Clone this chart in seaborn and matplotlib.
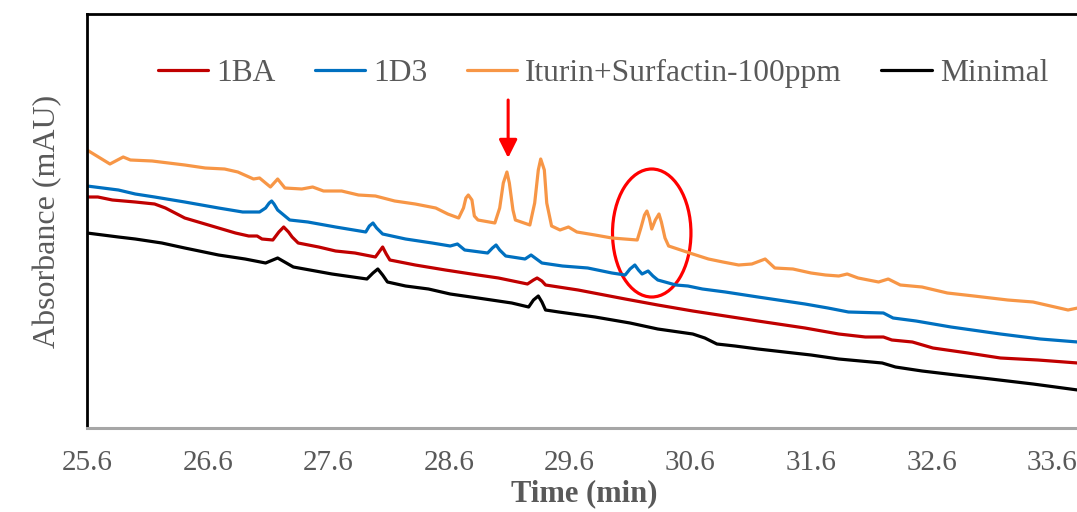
import matplotlib
matplotlib.use("Agg")
import matplotlib.pyplot as plt
from matplotlib.patches import Ellipse
import seaborn as sns
import pandas as pd

# Retention time (min) and absorbance (mAU) for each sample
t_ba = [25.60, 25.69, 25.81, 26.00, 26.16, 26.25, 26.41, 26.55, 26.69, 26.83, 26.94, 27.01,
        27.05, 27.14, 27.19, 27.23, 27.27, 27.30, 27.35, 27.52, 27.66, 27.82, 27.99, 28.02,
        28.05, 28.08, 28.11, 28.32, 28.57, 28.84, 29.01, 29.25, 29.30, 29.33, 29.37, 29.40,
        29.67, 30.06, 30.33, 30.62, 30.89, 31.16, 31.55, 31.83, 32.05, 32.20, 32.27, 32.44,
        32.61, 32.90, 33.17, 33.48, 33.81]
a_ba = [23.1, 23.1, 22.8, 22.6, 22.4, 22.0, 21.0, 20.5, 20.0, 19.5, 19.2, 19.2,
        18.9, 18.8, 19.6, 20.1, 19.6, 19.1, 18.5, 18.1, 17.7, 17.5, 17.1, 17.6,
        18.1, 17.4, 16.8, 16.3, 15.8, 15.3, 15.0, 14.4, 14.8, 15.0, 14.7, 14.3,
        13.8, 12.9, 12.3, 11.7, 11.2, 10.7, 10.0, 9.4, 9.1, 9.1, 8.8, 8.6,
        8.0, 7.5, 7.0, 6.8, 6.5]

t_d3 = [25.60, 25.86, 26.00, 26.16, 26.41, 26.69, 26.89, 27.03, 27.08, 27.11, 27.13, 27.15,
        27.18, 27.28, 27.43, 27.66, 27.91, 27.94, 27.97, 28.00, 28.05, 28.24, 28.46, 28.61,
        28.67, 28.73, 28.92, 28.96, 28.99, 29.02, 29.07, 29.23, 29.28, 29.37, 29.54, 29.75,
        29.95, 30.06, 30.10, 30.14, 30.17, 30.20, 30.25, 30.29, 30.33, 30.48, 30.58, 30.70,
        30.89, 31.16, 31.55, 31.74, 31.91, 32.20, 32.28, 32.47, 32.76, 33.17, 33.50, 33.81]
a_d3 = [24.2, 23.8, 23.4, 23.1, 22.6, 22.0, 21.6, 21.6, 22.0, 22.5, 22.7, 22.4,
        21.8, 20.8, 20.6, 20.1, 19.6, 20.2, 20.5, 20.0, 19.4, 18.9, 18.5, 18.2,
        18.4, 17.8, 17.5, 18.0, 18.3, 17.8, 17.2, 16.9, 17.3, 16.5, 16.2, 16.0,
        15.5, 15.3, 15.9, 16.3, 15.8, 15.4, 15.7, 15.2, 14.8, 14.3, 14.2, 13.9,
        13.6, 13.1, 12.4, 12.0, 11.6, 11.5, 11.0, 10.7, 10.1, 9.4, 8.9, 8.6]

t_is = [25.60, 25.79, 25.90, 25.96, 26.14, 26.41, 26.58, 26.74, 26.85, 26.98, 27.03, 27.12,
        27.18, 27.24, 27.38, 27.47, 27.56, 27.71, 27.85, 27.99, 28.15, 28.32, 28.49, 28.59,
        28.68, 28.72, 28.74, 28.76, 28.79, 28.81, 28.84, 28.98, 29.02, 29.05, 29.08, 29.10,
        29.13, 29.15, 29.27, 29.31, 29.34, 29.36, 29.39, 29.41, 29.45, 29.52, 29.59, 29.66,
        29.81, 29.95, 30.16, 30.19, 30.22, 30.24, 30.26, 30.28, 30.31, 30.34, 30.36, 30.39,
        30.42, 30.62, 30.75, 30.87, 31.00, 31.11, 31.22, 31.30, 31.45, 31.60, 31.72, 31.83,
        31.90, 31.99, 32.16, 32.24, 32.34, 32.52, 32.73, 32.95, 33.23, 33.44, 33.73, 33.81]
a_is = [27.8, 26.4, 27.1, 26.8, 26.7, 26.3, 26.0, 25.9, 25.6, 24.9, 25.0, 24.1,
        24.9, 24.0, 23.9, 24.1, 23.7, 23.7, 23.3, 23.2, 22.7, 22.4, 22.0, 21.4,
        21.0, 22.0, 23.0, 23.3, 22.8, 21.2, 20.8, 20.5, 22.0, 24.5, 25.6, 24.5,
        21.8, 20.8, 20.3, 22.5, 25.8, 26.9, 25.8, 22.5, 20.2, 19.8, 20.1, 19.6,
        19.3, 19.0, 18.8, 20.0, 21.3, 21.7, 21.0, 19.9, 20.8, 21.4, 20.6, 19.0,
        18.2, 17.4, 16.9, 16.6, 16.3, 16.4, 16.9, 16.0, 15.9, 15.5, 15.3, 15.2,
        15.4, 15.0, 14.6, 14.9, 14.3, 14.1, 13.5, 13.2, 12.8, 12.6, 11.8, 12.0]

t_min = [25.60, 25.86, 26.00, 26.22, 26.41, 26.69, 26.91, 27.08, 27.18, 27.31, 27.63, 27.92,
         27.97, 28.01, 28.05, 28.09, 28.24, 28.43, 28.61, 28.84, 29.12, 29.26, 29.30, 29.34,
         29.37, 29.40, 29.51, 29.81, 30.10, 30.33, 30.62, 30.72, 30.82, 30.97, 31.16, 31.60,
         31.83, 32.19, 32.30, 32.52, 32.80, 33.09, 33.44, 33.81]
a_min = [19.5, 19.1, 18.9, 18.5, 18.0, 17.3, 16.9, 16.5, 17.0, 16.1, 15.4, 14.9,
         15.5, 15.9, 15.3, 14.6, 14.2, 13.9, 13.4, 13.0, 12.5, 12.1, 12.8, 13.2,
         12.6, 11.8, 11.6, 11.1, 10.5, 9.9, 9.4, 9.0, 8.4, 8.2, 7.9, 7.3,
         6.9, 6.5, 6.1, 5.7, 5.3, 4.9, 4.4, 3.8]

series_names = ["1BA", "1D3", "Iturin+Surfactin-100ppm", "Minimal"]
series_colors = ["#C00000", "#0070C0", "#F79646", "#000000"]
x_ticks = [25.6, 26.6, 27.6, 28.6, 29.6, 30.6, 31.6, 32.6, 33.6]

frames = []
for name, t, a in zip(series_names, [t_ba, t_d3, t_is, t_min], [a_ba, a_d3, a_is, a_min]):
    frames.append(pd.DataFrame({"Time": t, "Absorbance": a, "Sample": name}))
df = pd.concat(frames, ignore_index=True)

sns.set_style("white")
plt.rcParams["font.family"] = ["Liberation Serif", "DejaVu Serif"]

fig = plt.figure(figsize=(10.77, 5.12), dpi=100)
ax = fig.add_axes([87 / 1077, 1 - 428 / 512, 1 - 87 / 1077 + 0.004, (428 - 14) / 512])

sns.lineplot(data=df, x="Time", y="Absorbance", hue="Sample", hue_order=series_names,
             palette=series_colors, estimator=None, sort=True, linewidth=2.3,
             solid_joinstyle="round", solid_capstyle="round", ax=ax)

ax.set_xlim(25.6, 33.84)
ax.set_ylim(0, 41.4)
ax.set_xticks(x_ticks)
ax.set_xticklabels([f"{v:.1f}" for v in x_ticks])
ax.set_yticks([])
ax.tick_params(axis="x", length=0, pad=16, labelsize=21, labelcolor="#595959")
ax.set_xlabel("Time (min)", fontsize=22, fontweight="bold", color="#595959", labelpad=2)
ax.set_ylabel("Absorbance (mAU)", fontsize=23, color="#595959", labelpad=18)

for side in ["left", "top"]:
    ax.spines[side].set_color("black")
    ax.spines[side].set_linewidth(2)
ax.spines["right"].set_visible(False)
ax.spines["bottom"].set_color("#A6A6A6")
ax.spines["bottom"].set_linewidth(2.2)

# arrow marking the surfactin peak
ax.annotate("", xy=(29.09, 27.0), xytext=(29.09, 32.8),
            arrowprops=dict(arrowstyle="-|>,head_length=11,head_width=5.5",
                            mutation_scale=1, color="#FF0000", lw=2.2,
                            shrinkA=0, shrinkB=0))
# ellipse around the iturin doublet
ax.add_patch(Ellipse((30.28, 19.5), width=0.65, height=12.8, fill=False,
                     edgecolor="#FF0000", linewidth=2.3))

leg = ax.legend(loc="center", bbox_to_anchor=(0.519, 0.857), ncol=4, frameon=False,
                fontsize=22.7, handlelength=1.6, handletextpad=0.25, columnspacing=1.25)
for txt in leg.get_texts():
    txt.set_color("#595959")
for line in leg.get_lines():
    line.set_linewidth(2.3)

fig.savefig("out.png", dpi=100)
